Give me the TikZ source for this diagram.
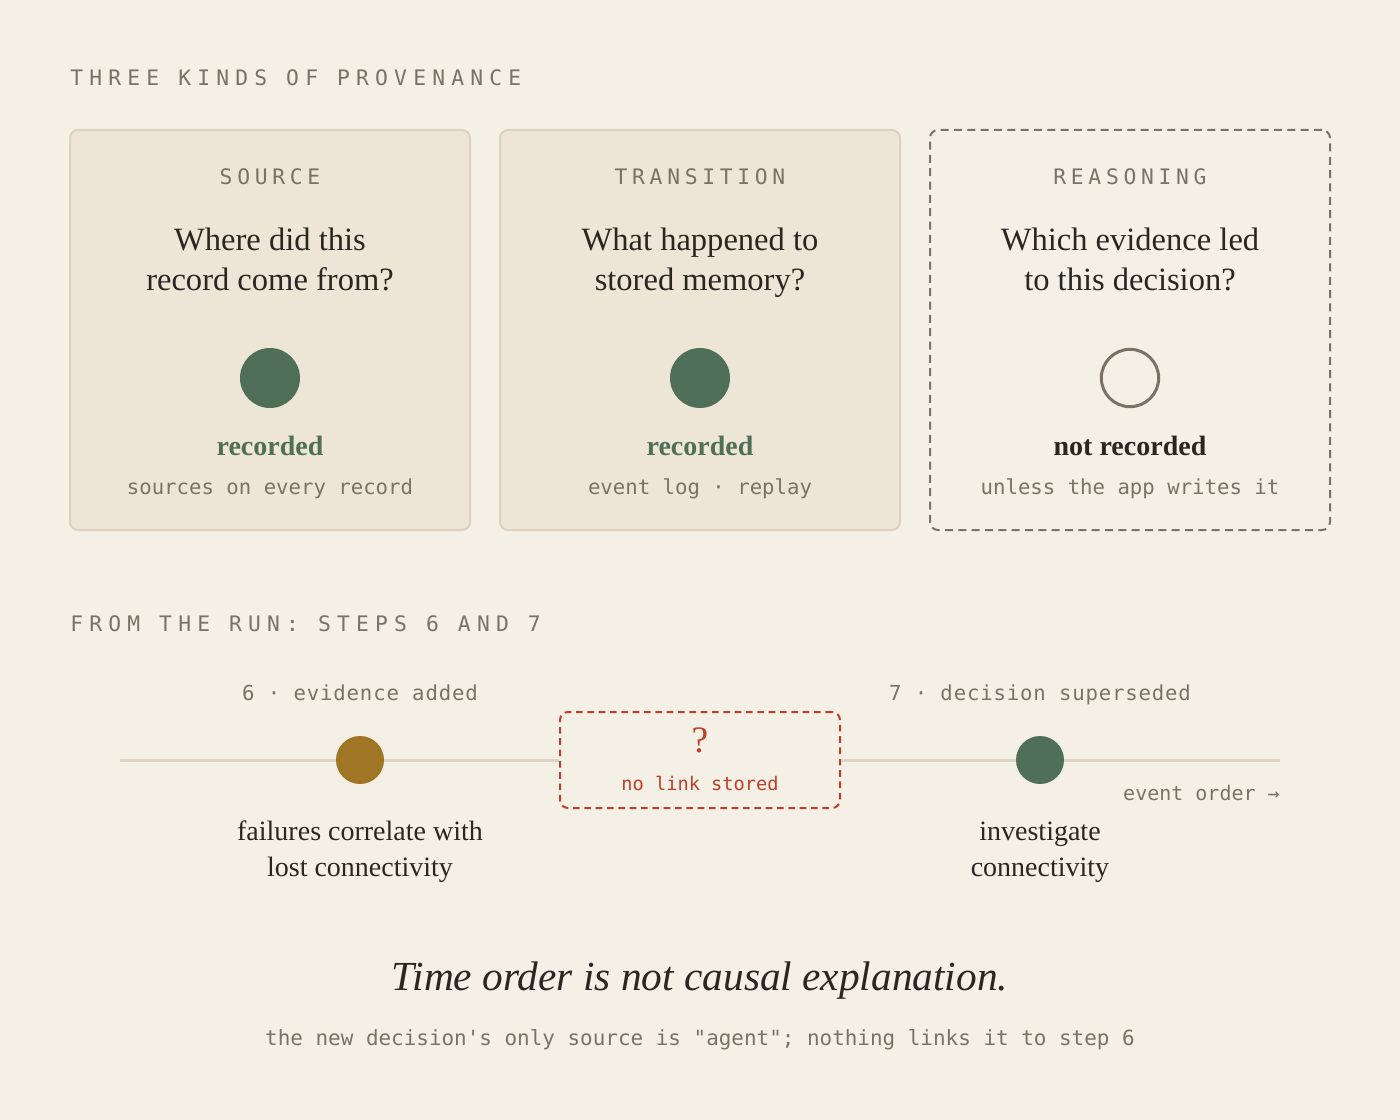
\documentclass[tikz,border=0pt]{standalone}
\usepackage{fontspec}
\setmainfont{Liberation Serif}
\setmonofont{DejaVu Sans Mono}
\usetikzlibrary{positioning}

\definecolor{paper}{HTML}{F5F0E6}
\definecolor{cardfill}{HTML}{EDE5D6}
\definecolor{cardline}{HTML}{DDD2BF}
\definecolor{ink}{HTML}{2A2622}
\definecolor{muted}{HTML}{7A7264}
\definecolor{sage}{HTML}{4F6F58}
\definecolor{ochre}{HTML}{A07624}
\definecolor{rust}{HTML}{BD3F2A}
\definecolor{trackline}{HTML}{DDD4C4}

\newcommand{\spaced}{\ttfamily\addfontfeatures{LetterSpace=29}}
\newcommand{\kindspaced}{\ttfamily\addfontfeatures{LetterSpace=22}}
\newcommand{\wide}{\ttfamily\addfontfeatures{LetterSpace=4}}

\begin{document}
\begin{tikzpicture}[x=0.75pt, y=-0.75pt,
    card/.style={draw=cardline, fill=cardfill, line width=1.5pt, rounded corners=6pt,
      minimum width=300pt, minimum height=300pt},
    opencard/.style={draw=muted, line width=1.5pt, dash pattern=on 6pt off 4pt,
      rounded corners=6pt, minimum width=300pt, minimum height=300pt},
    heading/.style={anchor=base west, inner sep=0pt, text=muted, font=\spaced\fontsize{16}{18}\selectfont},
    kind/.style={anchor=base, inner sep=0pt, text=muted, font=\kindspaced\fontsize{16}{18}\selectfont},
    question/.style={anchor=base, inner sep=0pt, text=ink, align=center,
      font=\fontsize{24.4}{30}\selectfont},
    dot/.style={circle, fill=sage, minimum size=45pt, inner sep=0pt},
    opendot/.style={circle, draw=muted, line width=2.25pt, minimum size=43pt, inner sep=0pt},
    status/.style={anchor=base, inner sep=0pt, font=\bfseries\fontsize{21}{25}\selectfont},
    note/.style={anchor=base, inner sep=0pt, text=muted, font=\ttfamily\fontsize{15.5}{18}\selectfont},
    steplabel/.style={anchor=base, inner sep=0pt, text=muted, font=\wide\fontsize{15.5}{18}\selectfont},
    event/.style={circle, minimum size=36pt, inner sep=0pt},
    eventtext/.style={anchor=base, inner sep=0pt, text=ink, align=center,
      font=\fontsize{21}{27}\selectfont},
    gapbox/.style={draw=rust, fill=paper, line width=1.5pt, dash pattern=on 5pt off 3.5pt,
      rounded corners=6pt, minimum width=210pt, minimum height=72pt},
    track/.style={draw=trackline, line width=2.25pt}
  ]
    % page
    \fill[paper] (0,0) rectangle (1400,1120);
    \useasboundingbox (0,0) rectangle (1400,1120);

    % three kinds of provenance
    \node[heading] (head1) at (70,86) {THREE KINDS OF PROVENANCE};

    \node[card] (srccard) at (270,330) {};
    \node[card] (trncard) at (700,330) {};
    \node[opencard] (rsncard) at (1130,330) {};

    \node[kind] (srckind) at (270,185) {SOURCE};
    \node[kind] (trnkind) at (700,185) {TRANSITION};
    \node[kind] (rsnkind) at (1130,185) {REASONING};

    % multi-line nodes sit on the baseline of their last line
    \node[question] (srcq) at (270,291) {Where did this\\record come from?};
    \node[question] (trnq) at (700,291) {What happened to\\stored memory?};
    \node[question] (rsnq) at (1130,291) {Which evidence led\\to this decision?};

    \node[dot] (srcdot) at (270,378) {};
    \node[dot] (trndot) at (700,378) {};
    \node[opendot] (rsndot) at (1130,378) {};

    \node[status, text=sage] (srcstat) at (270,455) {recorded};
    \node[status, text=sage] (trnstat) at (700,455) {recorded};
    \node[status, text=ink] (rsnstat) at (1130,455) {not recorded};

    \node[note] (srcnote) at (270,494) {sources on every record};
    \node[note] (trnnote) at (700,494) {event log · replay};
    \node[note] (rsnnote) at (1130,494) {unless the app writes it};

    % from the run
    \node[heading] (head2) at (70,631) {FROM THE RUN: STEPS 6 AND 7};

    \coordinate (tlstart) at (120,760);
    \coordinate (tlend) at (1280,760);
    \node[event, fill=ochre] (ev6) at (360,760) {};
    \node[event, fill=sage] (ev7) at (1040,760) {};
    \node[gapbox] (gap) at (700,760) {};
    \draw[track] (tlstart) -- (ev6) -- (gap) -- (ev7) -- (tlend);

    \node[steplabel] (ev6lab) at (360,700) {6 · evidence added};
    \node[steplabel] (ev7lab) at (1040,700) {7 · decision superseded};

    \node[anchor=base, inner sep=0pt, text=rust, font=\fontsize{28}{30}\selectfont] (gapq) at (700,752) {?};
    \node[anchor=base, inner sep=0pt, text=rust, font=\ttfamily\fontsize{14}{16}\selectfont] (gaptxt) at (700,790) {no link stored};

    \node[anchor=base east, inner sep=0pt, text=muted, font=\ttfamily\fontsize{15}{18}\selectfont] (order) at (1280,800) {event order →};

    \node[eventtext] (ev6txt) at (360,876) {failures correlate with\\lost connectivity};
    \node[eventtext] (ev7txt) at (1040,876) {investigate\\connectivity};

    % closing line
    \node[anchor=base, inner sep=0pt, text=ink, font=\itshape\fontsize{31}{36}\selectfont] (moral) at (700,990) {Time order is not causal explanation.};
    \node[anchor=base, inner sep=0pt, text=muted, font=\ttfamily\fontsize{15.7}{18}\selectfont] (footer) at (700,1045) {the new decision's only source is "agent"; nothing links it to step 6};
\end{tikzpicture}
\end{document}
